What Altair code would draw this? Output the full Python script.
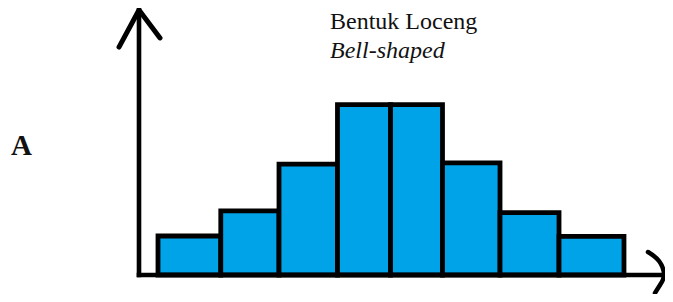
import altair as alt
import pandas as pd

# Histogram bin edges (x units) and bar heights (frequency units)
bin_edges = [0.322, 1.386, 2.373, 3.364, 4.263, 5.144, 6.119, 7.119, 8.220]
frequencies = [1.83, 3.01, 5.21, 8.0, 8.0, 5.26, 2.93, 1.81]

# Axis extents (data units) and arrow heads
x_axis_end = 8.898
y_axis_end = 12.44
y_arrow_x = [-0.339, 0.0, 0.356]
y_arrow_y = [10.70, 12.44, 11.13]
x_arrow_x = [8.627, 8.814, 8.898, 8.831, 8.746]
x_arrow_y = [1.080, 0.657, 0.0, -0.469, -0.845]

title_main = "Bentuk Loceng"
title_sub = "Bell-shaped"
side_label = "A"

x_domain = [-2.2203, 8.9153]
y_domain = [-0.892, 12.535]

BLUE = "#00A2E8"
SERIF = "Liberation Serif, Times New Roman, DejaVu Serif, serif"

bars = pd.DataFrame({
    "x0": bin_edges[:-1],
    "x1": bin_edges[1:],
    "y0": [0.0] * len(frequencies),
    "y1": frequencies,
})
axes_df = pd.DataFrame({
    "x0": [0.0, 0.0], "x1": [0.0, x_axis_end],
    "y0": [0.0, 0.0], "y1": [y_axis_end, 0.0],
})
arrows = pd.DataFrame({
    "x": y_arrow_x + x_arrow_x,
    "y": y_arrow_y + x_arrow_y,
    "grp": ["y"] * len(y_arrow_x) + ["x"] * len(x_arrow_x),
    "ord": list(range(len(y_arrow_x))) + list(range(len(x_arrow_x))),
})

xs = alt.Scale(domain=x_domain, nice=False, zero=False)
ys = alt.Scale(domain=y_domain, nice=False, zero=False)

rects = alt.Chart(bars).mark_rect(
    fill=BLUE, stroke="black", strokeWidth=4.8
).encode(
    x=alt.X("x0:Q", scale=xs, axis=None),
    x2="x1:Q",
    y=alt.Y("y0:Q", scale=ys, axis=None),
    y2="y1:Q",
)

axis_lines = alt.Chart(axes_df).mark_rule(
    color="black", strokeWidth=4.6, strokeCap="square"
).encode(
    x=alt.X("x0:Q", scale=xs, axis=None),
    x2="x1:Q",
    y=alt.Y("y0:Q", scale=ys, axis=None),
    y2="y1:Q",
)

y_head = alt.Chart(arrows[arrows.grp == "y"]).mark_line(
    color="black", strokeWidth=5, strokeCap="round", strokeJoin="round"
).encode(
    x=alt.X("x:Q", scale=xs, axis=None),
    y=alt.Y("y:Q", scale=ys, axis=None),
    order="ord:Q",
)
x_head = alt.Chart(arrows[arrows.grp == "x"]).mark_line(
    color="black", strokeWidth=4.5, strokeCap="round", interpolate="natural"
).encode(
    x=alt.X("x:Q", scale=xs, axis=None),
    y=alt.Y("y:Q", scale=ys, axis=None),
    order="ord:Q",
)

t1 = alt.Chart(pd.DataFrame({"t": [title_main]})).mark_text(
    font=SERIF, fontSize=24, align="left", baseline="alphabetic", color="#111"
).encode(text="t:N", x=alt.value(322), y=alt.value(21))
t2 = alt.Chart(pd.DataFrame({"t": [title_sub]})).mark_text(
    font=SERIF, fontSize=24, fontStyle="italic", align="left",
    baseline="alphabetic", color="#111"
).encode(text="t:N", x=alt.value(322), y=alt.value(49.5))
t3 = alt.Chart(pd.DataFrame({"t": [side_label]})).mark_text(
    font=SERIF, fontSize=29, fontWeight="bold", align="left",
    baseline="alphabetic", color="#111"
).encode(text="t:N", x=alt.value(3), y=alt.value(147))

chart = alt.layer(rects, axis_lines, y_head, x_head, t1, t2, t3).properties(
    width=657, height=286, padding=0,
    autosize=alt.AutoSizeParams(type="none"),
).configure_view(stroke=None)

chart.save("out.html", embed_options={"renderer": "svg", "actions": False})
